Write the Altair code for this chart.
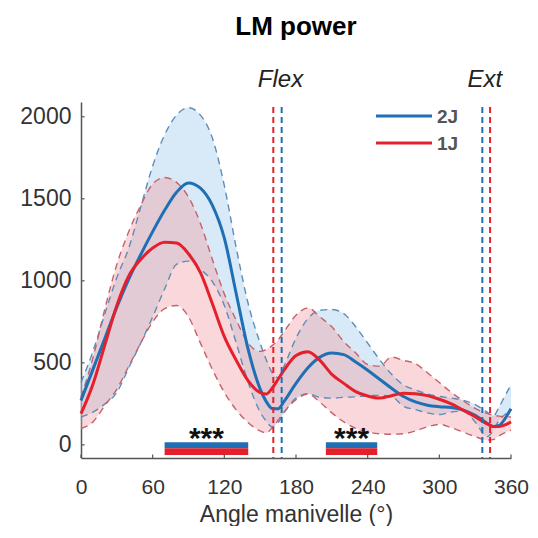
import altair as alt
import pandas as pd

# ---------------- data ----------------
angles = [0, 10, 20, 30, 40, 50, 60, 70, 80, 90, 100, 110, 120, 130, 140, 150, 155, 160, 165, 170,
          180, 190, 200, 210, 220, 230, 240, 250, 260, 270, 280, 290, 300, 310, 320, 330, 340, 345,
          350, 355, 360]

blue_mean = [270, 460, 650, 840, 1010, 1160, 1300, 1430, 1540, 1597, 1565, 1460, 1260, 920, 580, 340,
             265, 222, 220, 265, 375, 470, 535, 560, 550, 505, 455, 400, 345, 295, 262, 242, 233, 228,
             212, 180, 132, 112, 118, 160, 220]
blue_upper = [380, 570, 800, 1020, 1200, 1450, 1700, 1890, 2010, 2055, 2010, 1870, 1580, 1200, 860, 620,
              520, 440, 410, 480, 650, 770, 820, 825, 800, 720, 620, 520, 430, 365, 335, 310, 295, 285,
              272, 245, 200, 175, 230, 300, 365]
blue_lower = [170, 200, 250, 320, 470, 620, 780, 950, 1100, 1120, 1070, 995, 850, 620, 380, 200,
              145, 110, 135, 195, 285, 312, 290, 285, 290, 293, 300, 302, 295, 235, 215, 195, 185, 200,
              205, 140, 50, 85, 150, 185, 213]

red_mean = [190, 370, 610, 850, 1030, 1130, 1200, 1235, 1230, 1165, 1050, 860, 660, 515, 390, 318,
            310, 345, 400, 455, 545, 568, 515, 430, 375, 325, 298, 285, 300, 315, 312, 300, 278, 250,
            212, 172, 128, 112, 112, 122, 140]
red_upper = [290, 530, 830, 1100, 1300, 1460, 1590, 1630, 1600, 1510, 1350, 1130, 920, 760, 620, 570,
             580, 605, 640, 690, 790, 835, 780, 720, 630, 560, 490, 480, 535, 515, 495, 440, 380, 320,
             268, 222, 192, 182, 175, 172, 170]
red_lower = [100, 140, 240, 340, 480, 620, 750, 830, 850, 780, 620, 460, 320, 213, 135, 85,
             73, 105, 150, 200, 275, 310, 260, 195, 140, 100, 78, 68, 65, 68, 85, 110, 125, 105,
             78, 50, 30, 32, 55, 75, 90]

series_names = ["2J", "1J"]

# phase markers (Flex / Ext) per condition
marker_angles = [161, 168, 336, 342.5]
marker_series = ["1J", "2J", "2J", "1J"]
marker_labels = ["Flex", "Ext"]
marker_label_angles = [167, 338]

# significance windows
sig_start = [70, 205]
sig_end = [140, 248]
sig_text = ["***", "***"]

x_ticks = [0, 60, 120, 180, 240, 300, 360]
y_ticks = [0, 500, 1000, 1500, 2000]

# ---------------- styling ----------------
BLUE = "#1f6fb5"
RED = "#e3202b"
BLUE_FILL = "#a9d1ee"
RED_FILL = "#f4a0a8"
BLUE_EDGE = "#5f8db5"
RED_EDGE = "#c4636c"
FONT = "Liberation Sans"
colors = {"2J": BLUE, "1J": RED}

df = pd.DataFrame({
    "angle": angles,
    "b_mean": blue_mean, "b_upper": blue_upper, "b_lower": blue_lower,
    "r_mean": red_mean, "r_upper": red_upper, "r_lower": red_lower,
})

xscale = alt.Scale(domain=[0, 360], nice=False, zero=False)
yscale = alt.Scale(domain=[-80, 2090], nice=False, zero=False)
X_AXIS = alt.Axis(values=x_ticks, title="Angle manivelle (°)", format="d", labelFlush=False,
                  titleY=63, titleBaseline="alphabetic")
Y_AXIS = alt.Axis(values=y_ticks, title=None, format="d", labelFlush=False)


def X(field):
    return alt.X(field, scale=xscale, axis=X_AXIS)


def Y(field):
    return alt.Y(field, scale=yscale, axis=Y_AXIS)


def yd(v):
    return alt.datum(v, scale=yscale, axis=Y_AXIS)


def xd(v):
    return alt.datum(v, scale=xscale, axis=X_AXIS)


base = alt.Chart(df)

area_b = base.mark_area(color=BLUE_FILL, opacity=0.45, interpolate="monotone").encode(
    x=X("angle:Q"), y=Y("b_lower:Q"), y2="b_upper:Q"
)
area_r = base.mark_area(color=RED_FILL, opacity=0.42, interpolate="monotone").encode(
    x=X("angle:Q"), y=Y("r_lower:Q"), y2="r_upper:Q"
)

edges = []
for col, c in [("b_upper", BLUE_EDGE), ("b_lower", BLUE_EDGE), ("r_upper", RED_EDGE), ("r_lower", RED_EDGE)]:
    edges.append(
        base.mark_line(color=c, strokeDash=[7, 5], strokeWidth=1.4, interpolate="monotone").encode(
            x=X("angle:Q"), y=Y(f"{col}:Q")
        )
    )

mean_b = base.mark_line(color=BLUE, strokeWidth=3, interpolate="monotone").encode(
    x=X("angle:Q"), y=Y("b_mean:Q")
)
mean_r = base.mark_line(color=RED, strokeWidth=3, interpolate="monotone").encode(
    x=X("angle:Q"), y=Y("r_mean:Q")
)

# vertical phase lines
mk = pd.DataFrame({"angle": marker_angles, "series": marker_series})
mk["c"] = mk["series"].map(colors)
vlines = alt.Chart(mk).mark_rule(strokeDash=[6, 4], strokeWidth=2).encode(
    x=X("angle:Q"), y=yd(2060), y2=alt.datum(-80),
    color=alt.Color("c:N", scale=None),
)

mk_lab = pd.DataFrame({"angle": marker_label_angles, "label": marker_labels})
vlabels = alt.Chart(mk_lab).mark_text(
    font=FONT, fontSize=24, fontStyle="italic", color="#222", baseline="alphabetic", align="center"
).encode(x=X("angle:Q"), y=alt.value(-15), text="label:N")

# significance bars
sig = pd.DataFrame({"start": sig_start, "end": sig_end, "txt": sig_text})
bar_b = alt.Chart(sig).mark_rect(color=BLUE).encode(
    x=X("start:Q"), x2="end:Q", y=yd(16), y2=alt.datum(-20),
)
bar_r = alt.Chart(sig).mark_rect(color=RED).encode(
    x=X("start:Q"), x2="end:Q", y=yd(-20), y2=alt.datum(-62),
)
stars = alt.Chart(sig).transform_calculate(mid="(datum.start + datum.end) / 2").mark_text(
    font=FONT, fontSize=30, fontWeight="bold", color="#111", baseline="alphabetic", align="center"
).encode(x=X("mid:Q"), y=yd(-18), text="txt:N")

# inward ticks (MATLAB style)
xt = pd.DataFrame({"t": x_ticks})
xticks_l = alt.Chart(xt).mark_rule(color="#555", strokeWidth=1.2).encode(
    x=X("t:Q"), y=yd(-80), y2=alt.datum(-58)
)
yt = pd.DataFrame({"t": y_ticks})
yticks_l = alt.Chart(yt).mark_rule(color="#555", strokeWidth=1.2).encode(
    y=Y("t:Q"), x=xd(0), x2=alt.datum(3)
)

# legend (drawn by hand, MATLAB style)
legend_layers = []
for i, name in enumerate(series_names):
    ld = pd.DataFrame({"name": [name]})
    legend_layers.append(
        alt.Chart(ld).mark_rule(color=colors[name], strokeWidth=3).encode(
            x=alt.value(295), x2=alt.value(351), y=alt.value(14 + 27 * i)
        )
    )
    legend_layers.append(
        alt.Chart(ld).mark_text(font=FONT, fontSize=19, fontWeight="bold", color="#555",
                                align="left", baseline="middle").encode(
            x=alt.value(356), y=alt.value(15 + 27 * i), text="name:N"
        )
    )

chart = alt.layer(
    area_b, area_r, *edges, mean_b, mean_r, vlines, vlabels, bar_b, bar_r, stars,
    xticks_l, yticks_l, *legend_layers
).properties(
    width=430, height=356,
    autosize=alt.AutoSizeParams(type="none"),
    padding={"left": 73, "top": 94, "right": 19, "bottom": 68},
    title=alt.Title("LM power", font=FONT, fontSize=26, fontWeight="bold", color="#000",
                    anchor="middle", frame="group", offset=7, baseline="alphabetic"),
).configure_axis(
    domainColor="#555", domainWidth=1.5, labelColor="#333", labelFont=FONT, labelFontSize=21,
    ticks=False, tickSize=0, grid=False, titleFont=FONT, titleFontSize=23, titleColor="#333",
    titleFontWeight="normal",
).configure_axisX(labelPadding=18).configure_axisY(labelPadding=10, labelFontSize=23).configure_view(
    stroke=None
)

chart.save("out.html", embed_options={"renderer": "svg", "actions": False})
